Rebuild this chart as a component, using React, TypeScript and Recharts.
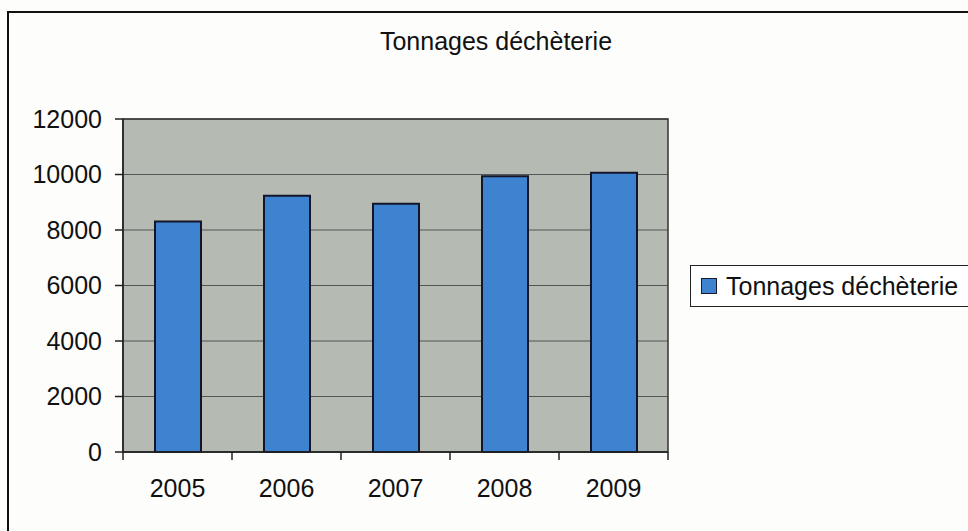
import React from 'react';
import {
  BarChart,
  Bar,
  XAxis,
  YAxis,
  CartesianGrid,
  ReferenceArea,
  Legend,
} from 'recharts';

const years = ['2005', '2006', '2007', '2008', '2009'];
const tonnages = [8310, 9230, 8950, 9940, 10060];
const yTicks = [0, 2000, 4000, 6000, 8000, 10000, 12000];
const seriesName = 'Tonnages déchèterie';

const data = years.map((year, i) => ({ year, tonnages: tonnages[i] }));

const W = 968;
const H = 531;
const PLOT_LEFT = 123;
const PLOT_RIGHT = 668;
const FONT = 'Arial, "Liberation Sans", sans-serif';
const BLUE = '#3d83d0';

const catW = (PLOT_RIGHT - PLOT_LEFT) / years.length;

// Excel puts the category ticks between the bars, not under them
const XTick = (props: any) => {
  const { x, y, payload, index } = props;
  const axisY = y - 27;
  return (
    <g>
      <line x1={x - catW / 2} x2={x - catW / 2} y1={axisY} y2={axisY + 8} stroke="#222" strokeWidth={1.5} />
      {index === years.length - 1 && (
        <line x1={x + catW / 2} x2={x + catW / 2} y1={axisY} y2={axisY + 8} stroke="#222" strokeWidth={1.5} />
      )}
      <text x={x} y={y} dy="0.71em" textAnchor="middle" fontSize={25} fontFamily={FONT} fill="#111">
        {payload.value}
      </text>
    </g>
  );
};

const LegendBox = () => (
  <div
    style={{
      position: 'absolute',
      left: 690,
      top: 265,
      width: 300,
      height: 42,
      border: '1px solid #222',
      background: '#fff',
      boxSizing: 'border-box',
      display: 'flex',
      alignItems: 'center',
      fontFamily: FONT,
      fontSize: 25,
      color: '#111',
    }}
  >
    <span
      style={{
        display: 'inline-block',
        width: 14,
        height: 14,
        marginLeft: 10,
        marginRight: 9,
        background: BLUE,
        border: '1px solid #1a1a2a',
      }}
    />
    {seriesName}
  </div>
);

export default function App() {
  return (
    <div
      style={{
        position: 'absolute',
        left: 0,
        top: 0,
        width: W,
        height: H,
        overflow: 'hidden',
        background: '#fdfdfb',
      }}
    >
      <div
        style={{
          position: 'absolute',
          left: 7,
          top: 11,
          width: W,
          height: H,
          borderLeft: '2px solid #111',
          borderTop: '2px solid #111',
        }}
      />
      <div
        style={{
          position: 'absolute',
          left: 0,
          width: 992,
          top: 27,
          textAlign: 'center',
          fontFamily: FONT,
          fontSize: 25,
          color: '#111',
        }}
      >
        {seriesName}
      </div>
      <div style={{ position: 'absolute', left: 0, top: 0 }}>
        <BarChart
          width={W}
          height={H}
          data={data}
          margin={{ top: 119, right: W - PLOT_RIGHT, left: 0, bottom: 29 }}
          barSize={46}
        >
          <CartesianGrid horizontal vertical={false} fill="#b5bab3" stroke="#555" strokeWidth={1.2} />
          <XAxis
            dataKey="year"
            height={50}
            tickLine={false}
            tickSize={8}
            tickMargin={19}
            tick={<XTick />}
            axisLine={{ stroke: '#222', strokeWidth: 1.5 }}
            interval={0}
          />
          <YAxis
            width={PLOT_LEFT}
            domain={[0, 12000]}
            ticks={yTicks}
            tickSize={8}
            tickMargin={13}
            tick={{ fontSize: 25, fontFamily: FONT, fill: '#111' }}
            tickLine={{ stroke: '#222', strokeWidth: 1.5 }}
            axisLine={{ stroke: '#222', strokeWidth: 1.5 }}
            interval={0}
          />
          <ReferenceArea y1={0} y2={12000} fill="none" stroke="#333" strokeWidth={1.5} ifOverflow="visible" />
          <Bar
            dataKey="tonnages"
            name={seriesName}
            fill={BLUE}
            stroke="#15152a"
            strokeWidth={2}
            isAnimationActive={false}
          />
          <Legend content={() => <LegendBox />} wrapperStyle={{ position: 'absolute', left: 0, top: 0, width: 0, height: 0 }} />
        </BarChart>
      </div>
    </div>
  );
}
